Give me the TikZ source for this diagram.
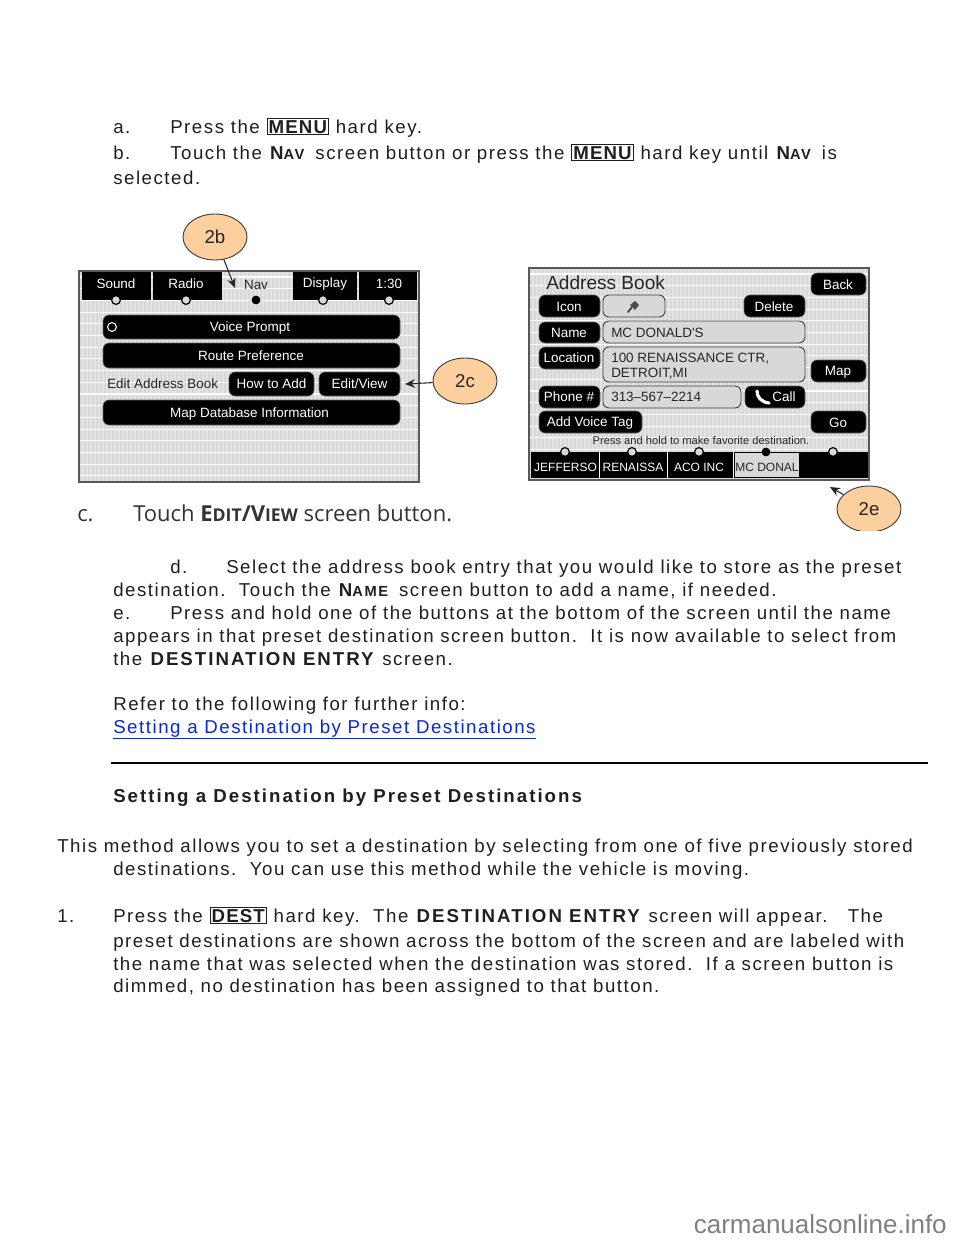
\documentclass[tikz,border=0pt]{standalone}
\usepackage{fontspec}
\setmainfont[LetterSpace=8.2,BoldFeatures={LetterSpace=10.8}]{Liberation Sans}
\newfontfamily\scrf{Liberation Sans}
\newfontfamily\keyf[LetterSpace=6]{Liberation Sans}
\newfontfamily\capf{Open Sans}
\usetikzlibrary{arrows.meta,shapes.geometric}
\newcommand{\bodysz}{\fontsize{14}{16}\selectfont}
\newcommand{\smc}[2]{\textbf{#1{\fontsize{11}{12}\selectfont #2}}\kern2pt\relax}
\newcommand{\keybox}[1]{{\setlength{\fboxsep}{0.9pt}\setlength{\fboxrule}{0.7pt}\fbox{\keyf\bfseries #1}}}
\newcommand{\capsc}[2]{\textbf{#1{\fontsize{13.2}{14}\selectfont #2}}}
\definecolor{scr}{HTML}{D8D8D8}
\definecolor{orangeb}{HTML}{FBCF9E}
\definecolor{linkb}{HTML}{0A28D8}
\tikzset{
 x=0.75pt,y=-0.75pt,
 bodyline/.style={anchor=base west,inner sep=0pt,font=\bodysz,text=black!88},
 callout/.style={ellipse,draw=black!75,line width=0.7pt,fill=orangeb,minimum width=48pt,minimum height=34.5pt,inner sep=0pt,font=\scrf\fontsize{14}{16}\selectfont,text=black!85},
 lead/.style={draw=black!85,line width=0.8pt,-{Stealth[length=7.5pt,width=6.5pt]},shorten >=0pt},
 blackbtn/.style={fill=black,draw=black!60,line width=0.4pt,rounded corners=4.5pt},
 field/.style={fill=scr,draw=black!75,line width=0.7pt,rounded corners=4.5pt},
 lab/.style={inner sep=0pt,text=white,font=\scrf\fontsize{10.1}{12}\selectfont},
 labd/.style={inner sep=0pt,text=black!85,font=\scrf\fontsize{10.1}{12}\selectfont},
 labs/.style={inner sep=0pt,font=\scrf\fontsize{9}{11}\selectfont},
 dot/.style={circle,draw=black,line width=0.9pt,fill=scr,minimum size=6.6pt,inner sep=0pt},
 dotf/.style={circle,fill=black,minimum size=6.6pt,inner sep=0pt},
}
\newcommand{\screenbg}[4]{%
 \fill[scr] (#1,#2) rectangle (#3,#4);
 \begin{scope}
 \clip (#1,#2) rectangle (#3,#4);
 \foreach \k in {0,...,85} {\draw[white,line width=0.9pt,opacity=.28] ({#1+4*\k},#2) -- ({#1+4*\k},#4);}
 \foreach \k in {0,...,18} {\draw[white,line width=0.8pt,opacity=.9] (#1,{#2+6+11.7*\k}) -- (#3,{#2+6+11.7*\k});}
 \end{scope}
}
\begin{document}
\begin{tikzpicture}
\useasboundingbox (0,0) rectangle (960,1242);
\fill[white] (0,0) rectangle (960,1242);
% top text
\node[bodyline] (la) at (113,133) {a.};
\node[bodyline] (ta) at (170,133) {Press the \keybox{MENU} hard key.};
\node[bodyline] (lb) at (113,159) {b.};
\node[bodyline] (tb) at (170,159) {Touch the \smc{N}{AV} screen button or press the \keybox{MENU} hard key until \smc{N}{AV} is};
\node[bodyline] (tc) at (113,184) {selected.};
% left screen
\screenbg{79}{271}{419}{482}
\draw[black!65,line width=1.2pt] (79,271) rectangle (419,482);
\fill[black] (82,272) rectangle (151,300);
\fill[black] (152.5,272) rectangle (222,300);
\fill[black] (293,272) rectangle (357,300);
\fill[black] (359,272) rectangle (417,300);
\node[lab] (tsound) at (116,284) {Sound};
\node[lab] (tradio) at (186,284) {Radio};
\node[labd] (tnav) at (256,285) {Nav};
\node[lab] (tdisp) at (325,284) {Display};
\node[lab] (ttime) at (389,284) {1:30};
\node[dot] (d1) at (116,300) {};
\node[dot] (d2) at (186,300) {};
\node[dotf] (d3) at (256,300) {};
\node[dot] (d4) at (323,300) {};
\node[dot] (d5) at (389,300) {};
\draw[blackbtn] (103,315) rectangle (400,339);
\draw[blackbtn] (103,343) rectangle (400,368);
\draw[blackbtn] (229,372) rectangle (314,396);
\draw[blackbtn] (319,372) rectangle (400,396);
\draw[blackbtn] (103,400) rectangle (400,425);
\node[circle,draw=white,line width=0.8pt,minimum size=6.6pt,inner sep=0pt] (radio) at (112,327) {};
\node[lab] (bvoice) at (250,328) {Voice Prompt};
\node[lab] (broute) at (251,356) {Route Preference};
\node[labd,anchor=west] (bedit) at (107,384) {Edit Address Book};
\node[lab] (bhow) at (271.5,384) {How to Add};
\node[lab] (bview) at (359.5,384) {Edit/View};
\node[lab] (bmap) at (249.5,414) {Map Database Information};
% right screen
\screenbg{529}{268}{869}{480}
\draw[black!65,line width=1.2pt] (529,268) rectangle (869,480);
\node[inner sep=0pt,anchor=west,text=black!85,font=\scrf\fontsize{14.3}{16}\selectfont] (title) at (546,283) {Address Book};
\draw[blackbtn] (811,273) rectangle (866,295);
\node[lab] (bback) at (838,285) {Back};
\draw[blackbtn] (539,295) rectangle (600,317);
\node[lab] (bicon) at (569,307) {Icon};
\draw[field] (603,295) rectangle (665,317);
\draw[black!80,line width=1.2pt,line cap=round] (628,312) -- (632,307);
\fill[black!70] (630,305) -- (635,301) -- (639,305) -- (635,310) -- cycle;
\draw[blackbtn] (744,295) rectangle (805,317);
\node[lab] (bdel) at (774,307) {Delete};
\draw[blackbtn] (539,322) rectangle (600,343);
\node[lab] (bname) at (569,333) {Name};
\draw[field] (603,321) rectangle (805,343);
\node[labd,anchor=west] (fname) at (611,333) {MC DONALD'S};
\draw[blackbtn] (539,347) rectangle (600,369);
\node[lab] (bloc) at (569,358) {Location};
\draw[field] (603,347) rectangle (805,382);
\node[labd,anchor=west] (floc1) at (611,359) {100 RENAISSANCE CTR,};
\node[labd,anchor=west] (floc2) at (611,374) {DETROIT,MI};
\draw[blackbtn] (811,360) rectangle (866,382);
\node[lab] (bmapr) at (838,372) {Map};
\draw[blackbtn] (539,386) rectangle (600,408);
\node[lab] (bphone) at (569,397) {Phone \#};
\draw[field] (603,386) rectangle (741,408);
\node[labd,anchor=west] (fphone) at (611,397) {313\textendash567\textendash2214};
\draw[blackbtn] (745,386) rectangle (805,408);
\draw[white,line width=2.4pt,line cap=round] (757,391) .. controls (757,397) and (761,402) .. (769,403);
\node[lab] (bcall) at (784,397) {Call};
\draw[blackbtn] (539,411) rectangle (642,433);
\node[lab] (bvt) at (590,423) {Add Voice Tag};
\draw[blackbtn] (811,411) rectangle (866,433);
\node[lab] (bgo) at (838,423) {Go};
\node[labd,font=\scrf\fontsize{8.35}{10}\selectfont] (press) at (701,441) {Press and hold to make favorite destination.};
\fill[black] (531,452) rectangle (868,478);
\fill[scr] (735,453) rectangle (799,477);
\draw[white,line width=0.5pt] (599,452) -- (599,478) (667,452) -- (667,478) (733,452) -- (733,478);
\node[labs,text=white] (p1) at (565.5,467.5) {JEFFERSO};
\node[labs,text=white] (p2) at (633,467.5) {RENAISSA};
\node[labs,text=white] (p3) at (699,467.5) {ACO INC};
\node[labs,text=black!85] (p4) at (767,467.5) {MC DONAL};
\node[dot] (e1) at (565,452) {};
\node[dot] (e2) at (632,452) {};
\node[dot] (e3) at (699,452) {};
\node[dotf] (e4) at (766,452) {};
\node[dot] (e5) at (833,452) {};
% callouts
\coordinate (tipb) at (235,288);
\coordinate (tipc) at (405,384);
\coordinate (tipe) at (830,487);
\node[callout] (c2b) at (215,237) {2b};
\node[callout] (c2c) at (465,381) {2c};
\begin{scope}
\clip (820,480) rectangle (920,530);
\node[callout] (c2e) at (869,509) {2e};
\end{scope}
\draw[lead] (c2b) -- (tipb);
\draw[lead] (c2c) -- (tipc);
\draw[lead] (c2e) -- (tipe);
% caption
\node[anchor=base west,inner sep=0pt,text=black!80,font=\capf\fontsize{16.5}{18}\selectfont] (capc) at (77,521) {c.};
\node[anchor=base west,inner sep=0pt,text=black!80,font=\capf\fontsize{16.5}{18}\selectfont] (capt) at (133,521) {Touch \capsc{E}{DIT}\textbf{/}\capsc{V}{IEW} screen button.};
% lower text
\node[bodyline] (ld) at (170,573) {d.};
\node[bodyline] (td) at (226,573) {Select the address book entry that you would like to store as the preset};
\node[bodyline] (td2) at (113,596) {destination.\ \ Touch the \smc{N}{AME} screen button to add a name, if needed.};
\node[bodyline] (le) at (113,619) {e.};
\node[bodyline] (te) at (170,619) {Press and hold one of the buttons at the bottom of the screen until the name};
\node[bodyline] (te2) at (113,642) {appears in that preset destination screen button.\ \ It is now available to select from};
\node[bodyline] (te3) at (113,665) {the \textbf{DESTINATION ENTRY} screen.};
\node[bodyline] (ref) at (113,710) {Refer to the following for further info:};
\node[bodyline,text=linkb] (link) at (113,733) {\underline{Setting a Destination by Preset Destinations}};
\draw[black,line width=2.2pt] (111,763) -- (928,763);
\node[bodyline] (head) at (113,802) {\textbf{Setting a Destination by Preset Destinations}};
\node[bodyline] (m1) at (57,852) {This method allows you to set a destination by selecting from one of five previously stored};
\node[bodyline] (m2) at (113,875) {destinations.\ \ You can use this method while the vehicle is moving.};
\node[bodyline] (l1) at (57,922) {1.};
\node[bodyline] (s1) at (113,922) {Press the \keybox{DEST} hard key.\ \ The \textbf{DESTINATION ENTRY} screen will appear.\ \ \ The};
\node[bodyline] (s2) at (113,947) {preset destinations are shown across the bottom of the screen and are labeled with};
\node[bodyline] (s3) at (113,970) {the name that was selected when the destination was stored.\ \ If a screen button is};
\node[bodyline] (s4) at (113,992) {dimmed, no destination has been assigned to that button.};
% footer
\node[anchor=base east,inner sep=0pt,text=black!50,font=\scrf\fontsize{19.5}{22}\selectfont] (foot) at (947,1233) {carmanualsonline.info};
\end{tikzpicture}
\end{document}
